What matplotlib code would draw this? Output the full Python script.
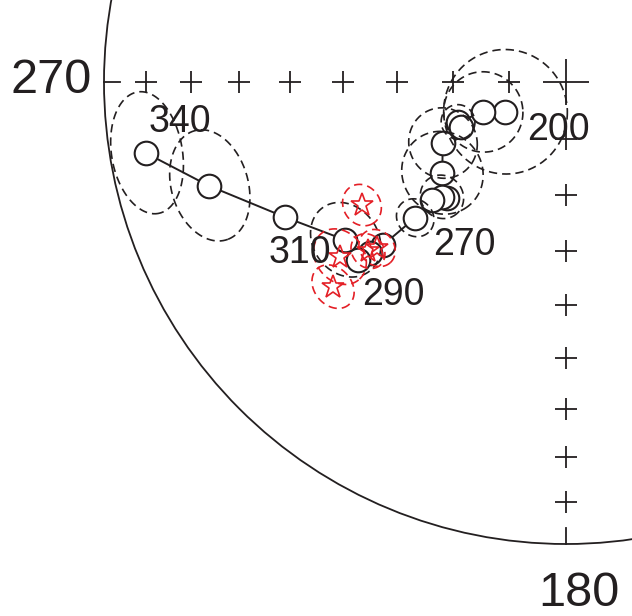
import numpy as np
import matplotlib
matplotlib.use("Agg")
import matplotlib.pyplot as plt
from matplotlib.patches import Circle

plt.rcParams['font.family'] = ['Liberation Sans', 'DejaVu Sans']

# demagnetisation steps, from the 200 end to the 340 end
dec = [243.8, 250.1, 249.7, 246.8, 243.6, 233.7, 225.7, 227.2, 228.6, 228.0,
       228.3, 228.9, 229.4, 234.4, 244.3, 253.8, 260.4]
inc = [78.1, 74.5, 69.7, 69.9, 65.7, 62.8, 60.5, 60.0, 58.3, 53.8,
       45.9, 43.1, 40.5, 40.9, 33.0, 20.6, 8.6]
a95 = [10.9, 7.0, 3.0, 0.0, 6.1, 7.2, 0.0, 3.8, 0.0, 3.3,
       0.0, 0.0, 0.0, 6.3, 0.0, 8.2, 8.2]

# site means (red stars)
star_dec = [238.9, 232.3, 228.7, 228.7, 229.5]
star_inc = [47.2, 38.1, 33.3, 44.7, 43.0]
star_a95 = [3.5, 4.7, 3.7, 3.2, 3.0]

step_labels = ['340', '310', '290', '270', '200']
label_xy = [(-0.8355, -0.108), (-0.5758, -0.392), (-0.3745, -0.483),
            (-0.2208, -0.3745), (-0.0162, -0.1255)]

grid_inc = [10, 20, 30, 40, 50, 60, 70, 80]

ink = '#231f20'
red = '#e41f26'


def to_vec(d, i):
    d, i = np.radians(d), np.radians(i)
    return np.array([np.cos(i) * np.cos(d), np.cos(i) * np.sin(d), np.sin(i)])


def project(v):
    # equal-area (Schmidt) projection, lower hemisphere
    v = np.atleast_2d(v)
    n, e, z = v[:, 0], v[:, 1], v[:, 2]
    h = np.hypot(n, e)
    h[h == 0] = 1e-12
    r = np.sqrt(1 - z)
    return r * e / h, r * n / h


def proj_di(d, i):
    vs = np.array([to_vec(a, b) for a, b in zip(d, i)])
    return project(vs)


def cone(d, i, a):
    u = to_vec(d, i)
    tmp = np.array([0, 0, 1.0]) if abs(u[2]) < 0.9 else np.array([1.0, 0, 0])
    e1 = np.cross(u, tmp)
    e1 /= np.linalg.norm(e1)
    e2 = np.cross(u, e1)
    phi = np.linspace(0, 2 * np.pi, 200)
    a = np.radians(a)
    pts = (np.cos(a) * u[None, :]
           + np.sin(a) * (np.cos(phi)[:, None] * e1 + np.sin(phi)[:, None] * e2))
    return project(pts)


fig = plt.figure(figsize=(6.32, 6.16), dpi=100)
ax = fig.add_axes([0, 0, 1, 1])
ax.set_xlim(-566 / 462, 66 / 462)
ax.set_ylim(-534 / 462, 82 / 462)
ax.set_aspect('equal')
ax.axis('off')

ax.add_patch(Circle((0, 0), 1, fill=False, lw=1.3, color=ink))

# grid crosses along 270 and 180
gx, gy = proj_di([270] * len(grid_inc), grid_inc)
ax.plot(gx, gy, '+', ms=16, mew=1.3, color=ink)
gx, gy = proj_di([180] * len(grid_inc), grid_inc)
ax.plot(gx, gy, '+', ms=16, mew=1.3, color=ink)
ax.plot([0], [0], '+', ms=33, mew=1.3, color=ink)
ax.plot([-1, -0.965], [0, 0], color=ink, lw=1.3)
ax.plot([0, 0], [-1, -0.965], color=ink, lw=1.3)

# path of demagnetisation
px, py = proj_di(dec, inc)
ax.plot(px, py, '-', color=ink, lw=1.4, zorder=2)
ax.plot(px, py, 'o', ms=17, mfc='white', mec=ink, mew=1.5, zorder=3)

for d, i, a in zip(dec, inc, a95):
    if a > 0:
        cx, cy = cone(d, i, a)
        ax.plot(cx, cy, color=ink, lw=1.2, ls=(0, (5, 3)), zorder=4)

for d, i, a in zip(star_dec, star_inc, star_a95):
    cx, cy = cone(d, i, a)
    ax.plot(cx, cy, color=red, lw=1.2, ls=(0, (5, 3)), zorder=5)
sx, sy = proj_di(star_dec, star_inc)
ax.plot(sx, sy, '*', ms=17, mfc='none', mec=red, mew=1.2, zorder=6)

for t, (x, y) in zip(step_labels, label_xy):
    ax.text(x, y, t, fontsize=27, ha='center', va='baseline', color=ink, zorder=7)

ax.text(-1.026, -0.0238, '270', fontsize=35, ha='right', va='baseline', color=ink)
ax.text(0.028, -1.134, '180', fontsize=35, ha='center', va='baseline', color=ink)

fig.savefig('out.png', dpi=100)
